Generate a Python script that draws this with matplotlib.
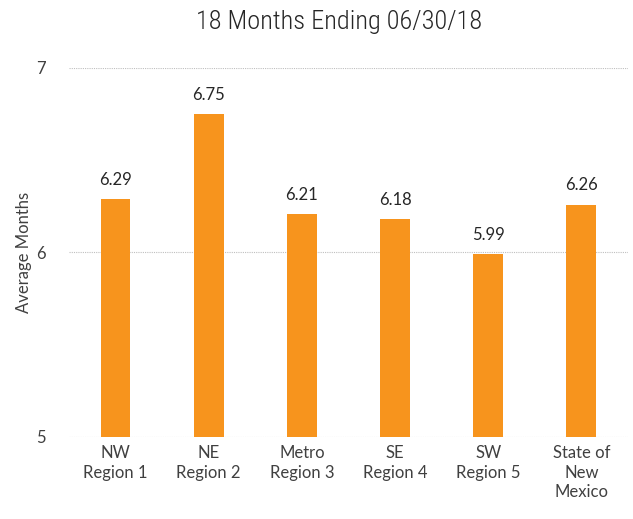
import matplotlib.pyplot as plt

categories = ['NW\nRegion 1', 'NE\nRegion 2', 'Metro\nRegion 3', 'SE\nRegion 4', 'SW\nRegion 5', 'State of\nNew\nMexico']
values = [6.29, 6.75, 6.21, 6.18, 5.99, 6.26]

plt.rcParams['font.family'] = ['Lato', 'DejaVu Sans']

fig = plt.figure(figsize=(6.33, 5.19), dpi=100)
ax = fig.add_axes([0.109, 0.158, 0.883, 0.711])

bars = ax.bar(range(len(categories)), values, width=0.32, color='#F7941D', zorder=3)

for bar, v in zip(bars, values):
    ax.text(bar.get_x() + bar.get_width() / 2, v + 0.06, f'{v:.2f}',
            ha='center', va='bottom', fontsize=12, color='#262626')

ax.set_ylim(5, 7)
ax.set_xlim(-0.5, len(categories) - 0.5)
ax.set_yticks([5, 6, 7])
ax.set_xticks(range(len(categories)))
ax.set_xticklabels(categories, fontsize=12, color='#404040', linespacing=1.25)
ax.tick_params(axis='y', labelsize=12, labelcolor='#404040', length=0, pad=17)
ax.tick_params(axis='x', length=0, pad=6)
ax.grid(axis='y', color='#BFBFBF', linestyle=(0, (1, 1)), linewidth=0.8, zorder=0)
for s in ['top', 'right', 'left', 'bottom']:
    ax.spines[s].set_visible(False)

ax.set_ylabel('Average Months', fontsize=12, color='#404040', labelpad=3)

fig.suptitle('18 Months Ending 06/30/18', x=0.535, y=0.98, fontsize=19,
             color='#262626', fontweight='light', fontstretch='condensed',
             family=['Roboto Condensed', 'DejaVu Sans Condensed', 'Liberation Sans Narrow', 'Roboto'])

fig.savefig('out.png', dpi=100)
